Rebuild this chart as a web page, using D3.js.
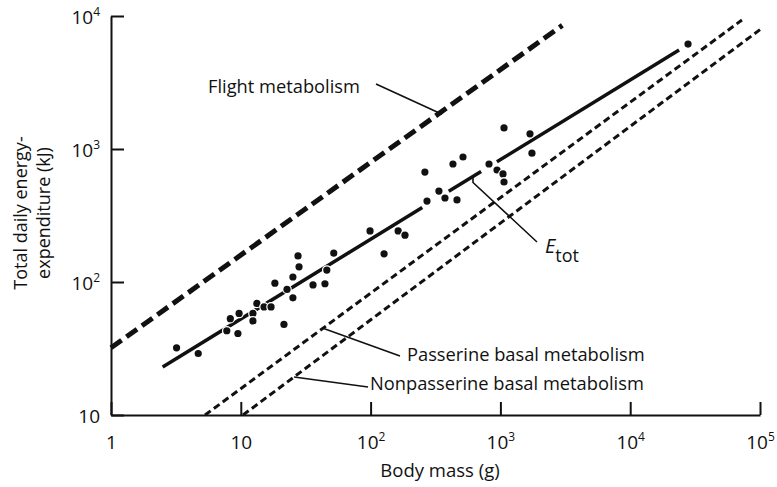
<!DOCTYPE html>
<html>
<head>
<meta charset="utf-8">
<script src="https://cdn.jsdelivr.net/npm/d3@7"></script>
<style>
  body { margin: 0; background: #fff; }
  text { font-family: 'Open Sans', sans-serif; fill: #111; }
</style>
</head>
<body>
<script>
// data (body mass in g, energy in kJ)
const x_ticks = [1, 10, 1e2, 1e3, 1e4, 1e5]
const x_tick_labels = [['1', ''], ['10', ''], ['10', '2'], ['10', '3'], ['10', '4'], ['10', '5']]
const y_ticks = [10, 1e2, 1e3, 1e4]
const y_tick_labels = [['10', ''], ['10', '2'], ['10', '3'], ['10', '4']]

const bird_mass = [3.2, 4.7, 7.8, 8.3, 9.7, 9.5, 12.4, 12.4, 13.3, 15.1, 17.1, 18.3, 21.5, 22.7,
    25.2, 25.2, 28.1, 27.6, 36, 44.5, 46, 52, 99, 127, 163, 184, 262, 272, 336, 374, 463, 431,
    515, 817, 942, 1047, 1066, 1066, 1690, 1750, 27900]
const bird_energy = [32, 29, 43, 53, 58, 41, 58, 51, 69, 65, 65, 98, 48, 88,
    109, 76, 130, 157, 95, 97, 123, 165, 242, 163, 242, 225, 671, 406, 483, 428, 414, 771,
    871, 771, 695, 649, 565, 1440, 1300, 930, 6150]

// fitted lines: [mass, energy] end points
const flight_line = [[1, 32], [3000, 8500]]
const passerine_line = [[5.3, 10], [72600, 9330]]
const nonpasserine_line = [[10.4, 10], [100000, 7900]]
const etot_line = [[2.5, 23], [23800, 5550]]
const etot_gaps = [[250, 400], [710, 940]]

// layout
const width = 777, height = 487
const margin = {left: 111, right: 17, top: 16, bottom: 72}

const x = d3.scaleLog().domain([1, 1e5]).range([margin.left, width - margin.right])
const y = d3.scaleLog().domain([10, 1e4]).range([height - margin.bottom, margin.top])

// energy along a straight line in log-log space
function on_line(line, m) {
    const [[m1, e1], [m2, e2]] = line
    const b = Math.log(e2 / e1) / Math.log(m2 / m1)
    return e1 * Math.pow(m / m1, b)
}

const svg = d3.select('body').append('svg')
    .attr('width', width)
    .attr('height', height)

// axes
const x_axis = svg.append('g')
    .attr('transform', `translate(0,${y(10)})`)
    .call(d3.axisBottom(x).tickValues(x_ticks).tickFormat('').tickSizeInner(-13).tickSizeOuter(0))
const y_axis = svg.append('g')
    .attr('transform', `translate(${x(1)},0)`)
    .call(d3.axisLeft(y).tickValues(y_ticks).tickFormat('').tickSizeInner(-13).tickSizeOuter(0))
svg.selectAll('.domain, .tick line')
    .attr('stroke', '#111')
    .attr('stroke-width', 2)

x_axis.selectAll('.tick').data(x_tick_labels)
    .append('text')
    .attr('y', 34)
    .attr('text-anchor', 'middle')
    .style('font-size', '19px')
    .each(function (d) {
        const t = d3.select(this)
        t.append('tspan').text(d[0])
        if (d[1]) t.append('tspan').text(d[1]).attr('dy', -8).style('font-size', '12px')
    })

y_axis.selectAll('.tick').data(y_tick_labels)
    .append('text')
    .attr('x', -11)
    .attr('y', 7)
    .attr('text-anchor', 'end')
    .style('font-size', '19px')
    .each(function (d) {
        const t = d3.select(this)
        t.append('tspan').text(d[0])
        if (d[1]) t.append('tspan').text(d[1]).attr('dy', -8).style('font-size', '12px')
    })

svg.append('text')
    .text('Body mass (g)')
    .attr('x', 440)
    .attr('y', 477)
    .attr('text-anchor', 'middle')
    .style('font-size', '18.5px')

const y_label = svg.append('text')
    .attr('transform', 'translate(27,213) rotate(-90)')
    .attr('text-anchor', 'middle')
    .style('font-size', '18px')
y_label.append('tspan').text('Total daily energy-').attr('x', 0)
y_label.append('tspan').text('expenditure (kJ)').attr('x', 0).attr('dy', 23)

// lines
const path = d3.line().x(d => x(d[0])).y(d => y(d[1]))

svg.append('path')
    .attr('d', path(flight_line))
    .attr('fill', 'none')
    .attr('stroke', '#111')
    .attr('stroke-width', 5)
    .attr('stroke-dasharray', '13,6')

svg.selectAll('.basal')
    .data([passerine_line, nonpasserine_line])
    .enter()
    .append('path')
    .attr('class', 'basal')
    .attr('d', d => path(d))
    .attr('fill', 'none')
    .attr('stroke', '#111')
    .attr('stroke-width', 3)
    .attr('stroke-dasharray', '7,4')

// Etot, broken where the points crowd it
const etot_pieces = []
let start = etot_line[0][0]
etot_gaps.forEach(g => {
    etot_pieces.push([start, g[0]])
    start = g[1]
})
etot_pieces.push([start, etot_line[1][0]])
svg.selectAll('.etot')
    .data(etot_pieces)
    .enter()
    .append('path')
    .attr('class', 'etot')
    .attr('d', d => path(d.map(m => [m, on_line(etot_line, m)])))
    .attr('fill', 'none')
    .attr('stroke', '#111')
    .attr('stroke-width', 3.5)

// points
svg.selectAll('.bird')
    .data(bird_mass)
    .enter()
    .append('circle')
    .attr('class', 'bird')
    .attr('cx', d => x(d))
    .attr('cy', (_, i) => y(bird_energy[i]))
    .attr('r', 3.6)
    .attr('fill', '#111')
    .attr('stroke', '#fff')
    .attr('stroke-width', 2.5)
    .attr('paint-order', 'stroke')

// annotations
const leader = (pts) => svg.append('path')
    .attr('d', d3.line()(pts))
    .attr('fill', 'none')
    .attr('stroke', '#111')
    .attr('stroke-width', 1.6)

svg.append('text').text('Flight metabolism')
    .attr('x', 208).attr('y', 93)
    .style('font-size', '18.3px')
leader([[376, 84], [x(355), y(on_line(flight_line, 355)) + 3]])

svg.append('text').text('Passerine basal metabolism')
    .attr('x', 407).attr('y', 361)
    .style('font-size', '18.3px')
leader([[x(43), y(on_line(passerine_line, 43))], [400, 356]])

svg.append('text').text('Nonpasserine basal metabolism')
    .attr('x', 370).attr('y', 390)
    .style('font-size', '18.3px')
leader([[x(25.7), y(on_line(nonpasserine_line, 25.7))], [368, 387]])

const ex = x(615), ey = y(on_line(etot_line, 615))
leader([[ex, ey], [ex, ey + 6], [537, 242]])
const etot_text = svg.append('text').attr('x', 545).attr('y', 253)
etot_text.append('tspan').text('E').style('font-style', 'italic').style('font-size', '20px')
etot_text.append('tspan').text('tot').attr('dy', 9).style('font-size', '18px')
</script>
</body>
</html>
